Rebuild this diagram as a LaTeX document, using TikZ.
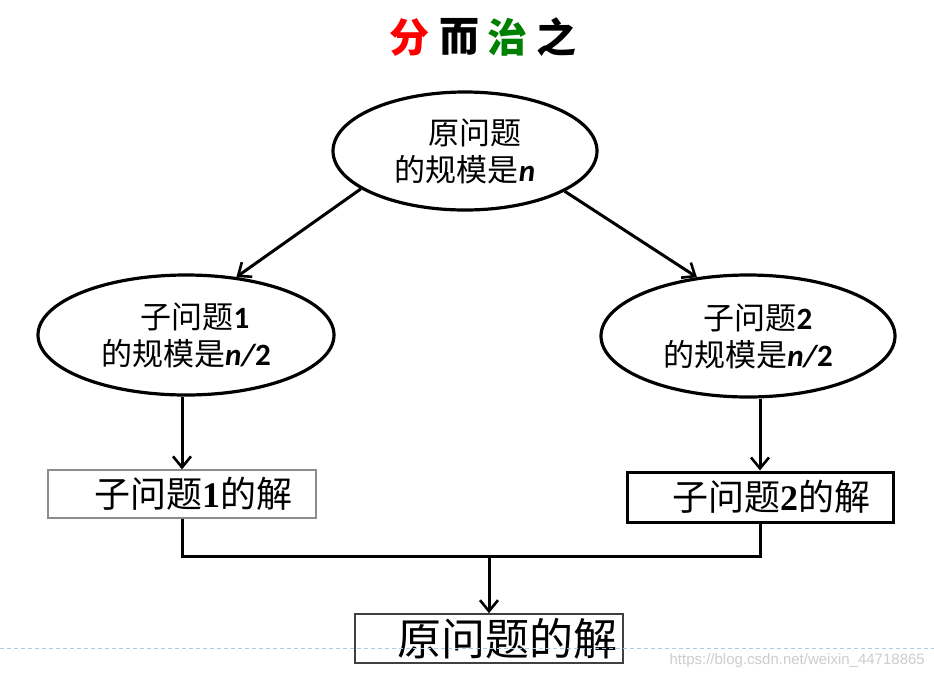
\documentclass[tikz,border=0pt]{standalone}
\usepackage{fontspec}
\usetikzlibrary{shapes.geometric,arrows.meta}
\newfontfamily\cjk{Noto Sans CJK SC}
\newfontfamily\carl{Carlito}
\newfontfamily\lserif{Liberation Serif}
\newfontfamily\lsans{Liberation Sans}
\definecolor{tgreen}{RGB}{0,128,0}
\definecolor{dashblue}{RGB}{175,200,228}
\definecolor{wm}{RGB}{205,205,205}
\begin{document}
\begin{tikzpicture}[x=1pt,y=-1pt,
  ell/.style={ellipse, draw, line width=3.2pt, inner sep=0pt, align=center,
    font=\cjk\fontsize{31}{37}\selectfont},
  sbox/.style={draw, inner sep=0pt, font=\cjk\fontsize{36}{40}\selectfont},
  arr/.style={line width=3pt, -{Straight Barb[length=11pt,width=18pt,line width=2.6pt]}},
  conn/.style={line width=3pt},
  ttl/.style={font=\cjk\bfseries\fontsize{40}{44}\selectfont, inner sep=0pt}]
\useasboundingbox[fill=white] (0,0) rectangle (934,678);
% title
\node[ttl, text=red] (t1) at (409,37) {分};
\node[ttl] (t2) at (459,37) {而};
\node[ttl, text=tgreen] (t3) at (507,37) {治};
\node[ttl] (t4) at (556,37) {之};
% ellipses
\node[ell, minimum width=264pt, minimum height=118pt] (top) at (465,151)
  {\hspace{20pt}原问题\\的规模是{\carl\bfseries\itshape n}};
\node[ell, minimum width=296pt, minimum height=120pt] (L) at (186,335)
  {\hspace{18pt}子问题{\carl\bfseries 1}\\的规模是{\carl\bfseries\itshape n/}{\carl\bfseries 2}};
\node[ell, minimum width=294pt, minimum height=122pt] (R) at (748,336)
  {\hspace{20pt}子问题{\carl\bfseries 2}\\的规模是{\carl\bfseries\itshape n/}{\carl\bfseries 2}};
% boxes
\node[sbox, draw=black!45, line width=1.2pt, minimum width=268pt, minimum height=48pt] (lb) at (182,494)
  {\hspace{22pt}子问题{\lserif\bfseries 1}的解};
\node[sbox, line width=3pt, minimum width=266pt, minimum height=50pt] (rb) at (760,497)
  {\hspace{22pt}子问题{\lserif\bfseries 2}的解};
\node[sbox, draw=black!75, line width=1.6pt, minimum width=268pt, minimum height=49pt,
  font=\cjk\fontsize{44}{48}\selectfont] (bb) at (489,638.5)
  {\hspace{36pt}原问题的解};
% connectors
\draw[arr] (top.200) -- (L.49);
\draw[arr] (top.338) -- (R.131);
\draw[arr] (L.south -| lb.north) -- (lb.north);
\draw[arr] (R.south -| rb.north) -- (rb.north);
\coordinate (j) at (489,556);
\draw[conn] (lb.south) |- (j);
\draw[conn] (rb.south) |- (j);
\draw[arr] (j) -- (bb.north);
% page rule and watermark
\coordinate (d1) at (0,648);
\coordinate (d2) at (934,648);
\draw[dashblue, line width=0.9pt, dash pattern=on 4pt off 3pt] (d1) -- (d2);
\node[anchor=east, text=wm, font=\lsans\fontsize{15}{17}\selectfont, inner sep=0pt] (wmk) at (925,661)
  {https://blog.csdn.net/weixin\_44718865};
\end{tikzpicture}
\end{document}
